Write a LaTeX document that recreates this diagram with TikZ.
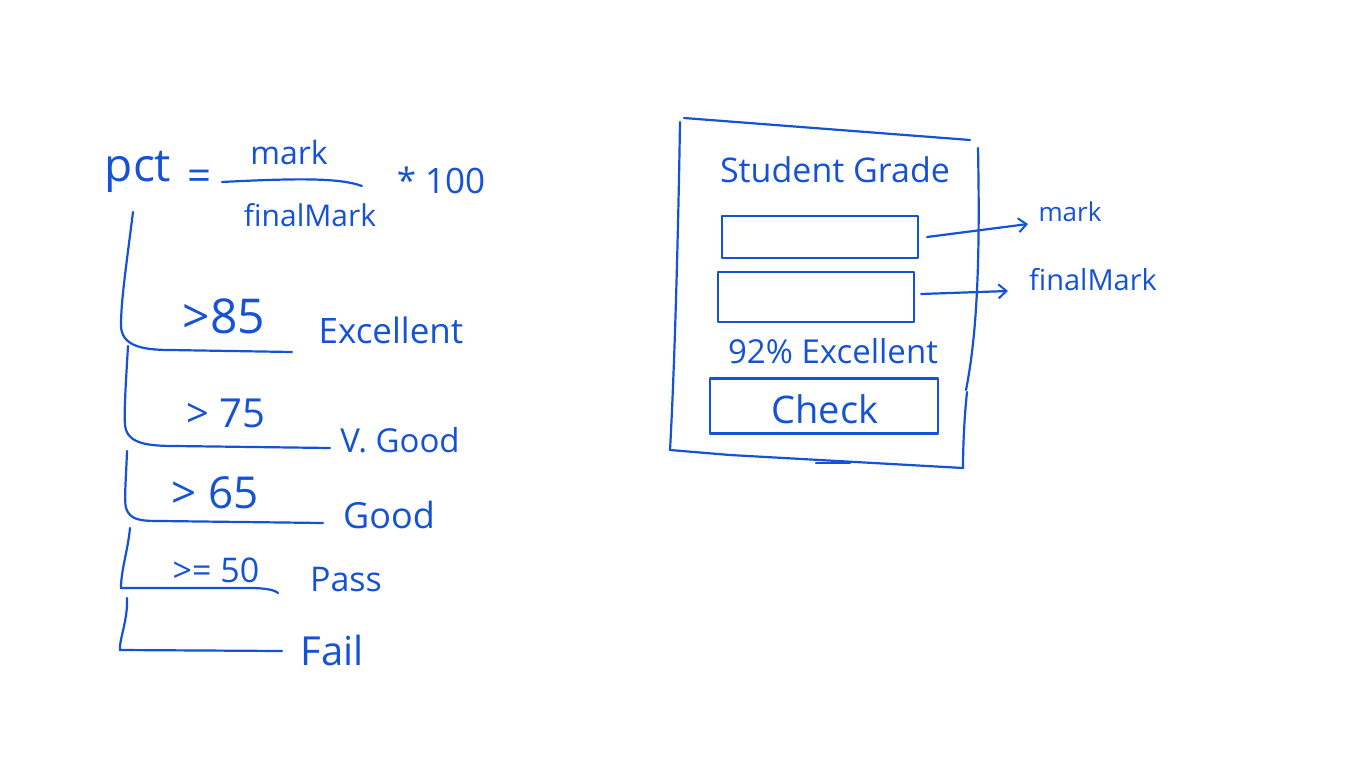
\documentclass[tikz,border=0pt]{standalone}
\usepackage{fontspec}
\setmainfont{Open Sans}
\usetikzlibrary{arrows.meta}
\definecolor{ink}{RGB}{22,82,214}
\begin{document}
\begin{tikzpicture}[x=1pt,y=-1pt, line width=2.2pt, line cap=round, line join=round,
  color=ink,
  lbl/.style={text=ink, inner sep=0pt, anchor=center},
  fs/.style={font=\fontsize{#1}{#1}\selectfont},
  field/.style={draw=ink, rectangle, inner sep=0pt},
  arr/.style={-{Straight Barb[length=8pt,width=14pt,line width=2pt]}}]
\path[fill=white] (0,0) rectangle (1366,768);
\useasboundingbox (0,0) rectangle (1366,768);

% formula
\node[lbl,fs=46] (pct) at (138,172) {pct};
\node[lbl,fs=42] (eq) at (200,180) {=};
\node[lbl,fs=32] (num) at (289,152) {mark};
\node[lbl,fs=30] (den) at (310,215) {finalMark};
\draw (222,182) .. controls (300,178) and (340,178) .. (362,186);
\node[lbl,fs=35] (times) at (441,180) {* 100};

% decision tree
\coordinate (t1) at (133,212);
\draw (t1) .. controls (127,260) and (121,300) .. (121,325) .. controls (121,345) and (140,350) .. (170,350) -- (292,352);
\draw (128,346) .. controls (126,380) and (124,410) .. (125,425) .. controls (127,443) and (145,446) .. (175,446) -- (330,448);
\draw (127,451) .. controls (126,480) and (124,500) .. (126,508) .. controls (130,520) and (140,521) .. (160,521) -- (323,523);
\draw (130,528) .. controls (128,550) and (121,570) .. (121,588) -- (250,588) .. controls (265,588) and (275,590) .. (278,593);
\draw (127,598) .. controls (128,620) and (119,640) .. (120,650) -- (282,651);

\node[lbl,fs=48] (c85) at (224,316) {>85};
\node[lbl,fs=40] (c75) at (226,413) {> 75};
\node[lbl,fs=44] (c65) at (215,493) {> 65};
\node[lbl,fs=34] (c50) at (216,570) {>= 50};

\node[lbl,fs=35] (exc) at (391,330) {Excellent};
\node[lbl,fs=33] (vg) at (400,440) {V. Good};
\node[lbl,fs=36] (good) at (389,515) {Good};
\node[lbl,fs=34] (pass) at (346,580) {Pass};
\node[lbl,fs=40] (fail) at (332,650) {Fail};

% form sketch
\draw (684,118) -- (970,140);
\draw (680,122) .. controls (678,250) and (674,380) .. (670,450);
\draw (978,148) .. controls (980,250) and (978,330) .. (966,390);
\draw (967,392) .. controls (964,420) and (963,450) .. (963,468);
\draw (670,450) -- (730,455) -- (963,468);
\draw (816,463) -- (850,463);

\node[lbl,fs=34] (title) at (835,170) {Student Grade};
\node[field, minimum width=196pt, minimum height=42pt] (in1) at (820,237) {};
\node[field, minimum width=196pt, minimum height=50pt] (in2) at (816,297) {};
\node[lbl,fs=26] (markR) at (1070,212) {mark};
\node[lbl,fs=29] (finR) at (1093,280) {finalMark};
\coordinate (a1) at (1028,224);
\coordinate (a2) at (1008,291);
\draw[arr] ([xshift=8pt]in1.east) -- (a1);
\draw[arr] ([xshift=6pt,yshift=3pt]in2.east) -- (a2);
\node[lbl,fs=33] (res) at (833,351) {92\% Excellent};
\node[field, minimum width=228pt, minimum height=55pt] (btn) at (824,406) {};
\node[lbl,fs=38] (chk) at (825,409) {Check};
\end{tikzpicture}
\end{document}
